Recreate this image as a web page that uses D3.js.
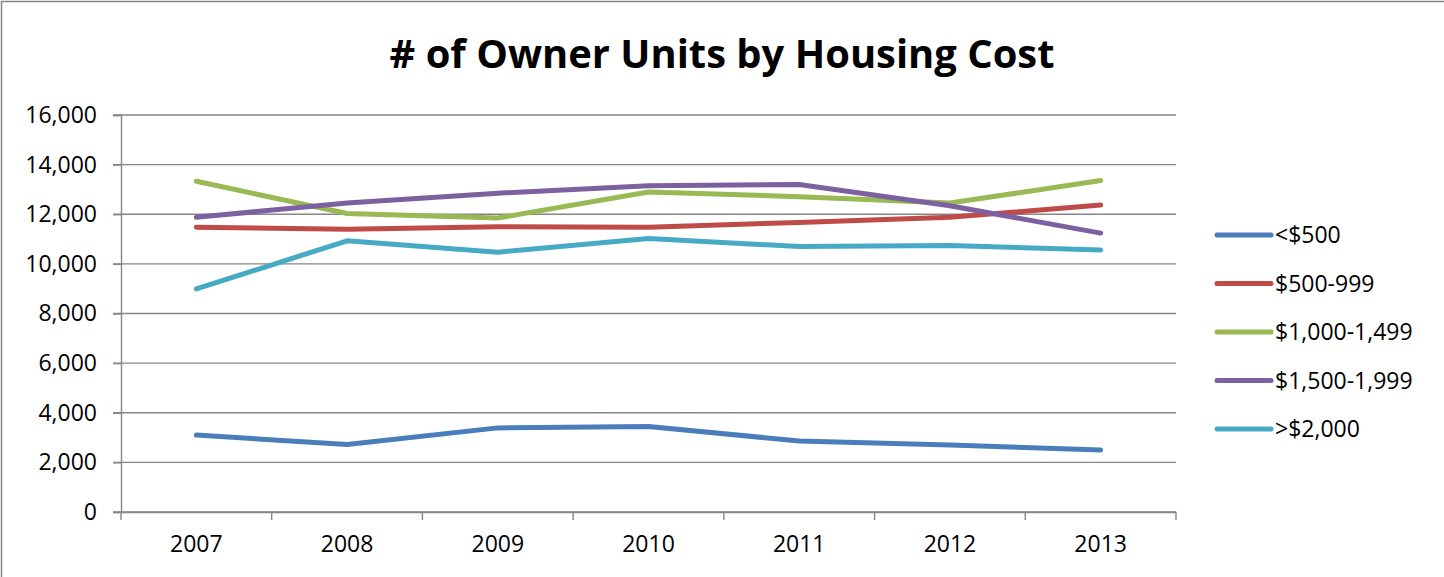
<!DOCTYPE html>
<html>
<head>
<meta charset="utf-8">
<script src="https://cdn.jsdelivr.net/npm/d3@7"></script>
<style>
  body { margin: 0; background: #fff; }
  text { font-family: "Open Sans", "Noto Sans", sans-serif; fill: #000; }
</style>
</head>
<body>
<svg id="chart" width="1444" height="577"></svg>
<script>
const years = ["2007", "2008", "2009", "2010", "2011", "2012", "2013"];
const seriesNames = ["<$500", "$500-999", "$1,000-1,499", "$1,500-1,999", ">$2,000"];
const under500 = [3100, 2720, 3390, 3450, 2860, 2700, 2500];
const from500 = [11480, 11400, 11500, 11480, 11670, 11880, 12370];
const from1000 = [13330, 12030, 11850, 12900, 12710, 12450, 13360];
const from1500 = [11880, 12450, 12850, 13150, 13200, 12340, 11240];
const over2000 = [8990, 10930, 10470, 11020, 10700, 10740, 10560];
const yTicks = [0, 2000, 4000, 6000, 8000, 10000, 12000, 14000, 16000];
const colors = ["#4A7EBB", "#BE4B48", "#98B954", "#7D60A0", "#46AAC5"];

const allSeries = [under500, from500, from1000, from1500, over2000];

const svg = d3.select("#chart");
const margin = { left: 121, top: 115, right: 1176, bottom: 512 };

// outer chart frame
svg.append("rect")
    .attr("x", 1.5).attr("y", 1.5)
    .attr("width", 1460).attr("height", 600)
    .attr("fill", "none")
    .attr("stroke", "#868686")
    .attr("stroke-width", 1.5);

svg.append("text")
    .attr("x", 722).attr("y", 68)
    .attr("text-anchor", "middle")
    .attr("font-size", 40)
    .attr("font-weight", "bold")
    .attr("textLength", 665)
    .attr("lengthAdjust", "spacingAndGlyphs")
    .text("# of Owner Units by Housing Cost");

const x = d3.scaleBand().domain(years).range([margin.left, margin.right]);
const y = d3.scaleLinear().domain([0, 16000]).range([margin.bottom, margin.top]);

// gridlines
svg.append("g")
    .selectAll("line")
    .data(yTicks)
    .enter()
    .append("line")
    .attr("x1", margin.left - 8)
    .attr("x2", margin.right)
    .attr("y1", d => y(d))
    .attr("y2", d => y(d))
    .attr("stroke", "#868686")
    .attr("stroke-width", 1.4);

// y axis
const yAxis = svg.append("g")
    .attr("transform", "translate(" + margin.left + ",0)")
    .call(d3.axisLeft(y).tickValues(yTicks).tickFormat(d3.format(",")).tickSize(8).tickPadding(16));
yAxis.selectAll("path, line").attr("stroke", "#868686").attr("stroke-width", 1.4);
yAxis.selectAll("text").attr("font-size", 23).style("font-family", "'Open Sans', sans-serif");

// x axis with ticks at band boundaries
const xAxis = svg.append("g")
    .attr("transform", "translate(0," + margin.bottom + ")")
    .call(d3.axisBottom(x).tickSize(0).tickPadding(24));
xAxis.select("path").attr("stroke", "#868686").attr("stroke-width", 1.4);
xAxis.selectAll("text").attr("font-size", 23).style("font-family", "'Open Sans', sans-serif");
const bounds = years.map(d => x(d)).concat([margin.right]);
xAxis.selectAll(".bound")
    .data(bounds)
    .enter()
    .append("line")
    .attr("x1", d => d).attr("x2", d => d)
    .attr("y1", 0).attr("y2", 8)
    .attr("stroke", "#868686")
    .attr("stroke-width", 1.4);

const line = d3.line()
    .x((d, i) => x(years[i]) + x.bandwidth() / 2)
    .y(d => y(d));

svg.append("g")
    .selectAll("path")
    .data(allSeries)
    .enter()
    .append("path")
    .attr("d", d => line(d))
    .attr("fill", "none")
    .attr("stroke", (d, i) => colors[i])
    .attr("stroke-width", 5)
    .attr("stroke-linecap", "round")
    .attr("stroke-linejoin", "round");

// legend
const legend = svg.append("g").attr("transform", "translate(1217,235)");
const items = legend.selectAll("g")
    .data(seriesNames)
    .enter()
    .append("g")
    .attr("transform", (d, i) => "translate(0," + i * 48.5 + ")");
items.append("line")
    .attr("x1", 0).attr("x2", 54)
    .attr("y1", 0).attr("y2", 0)
    .attr("stroke", (d, i) => colors[i])
    .attr("stroke-width", 5)
    .attr("stroke-linecap", "round");
items.append("text")
    .attr("x", 58).attr("y", 8)
    .attr("font-size", 23)
    .text(d => d);
</script>
</body>
</html>
